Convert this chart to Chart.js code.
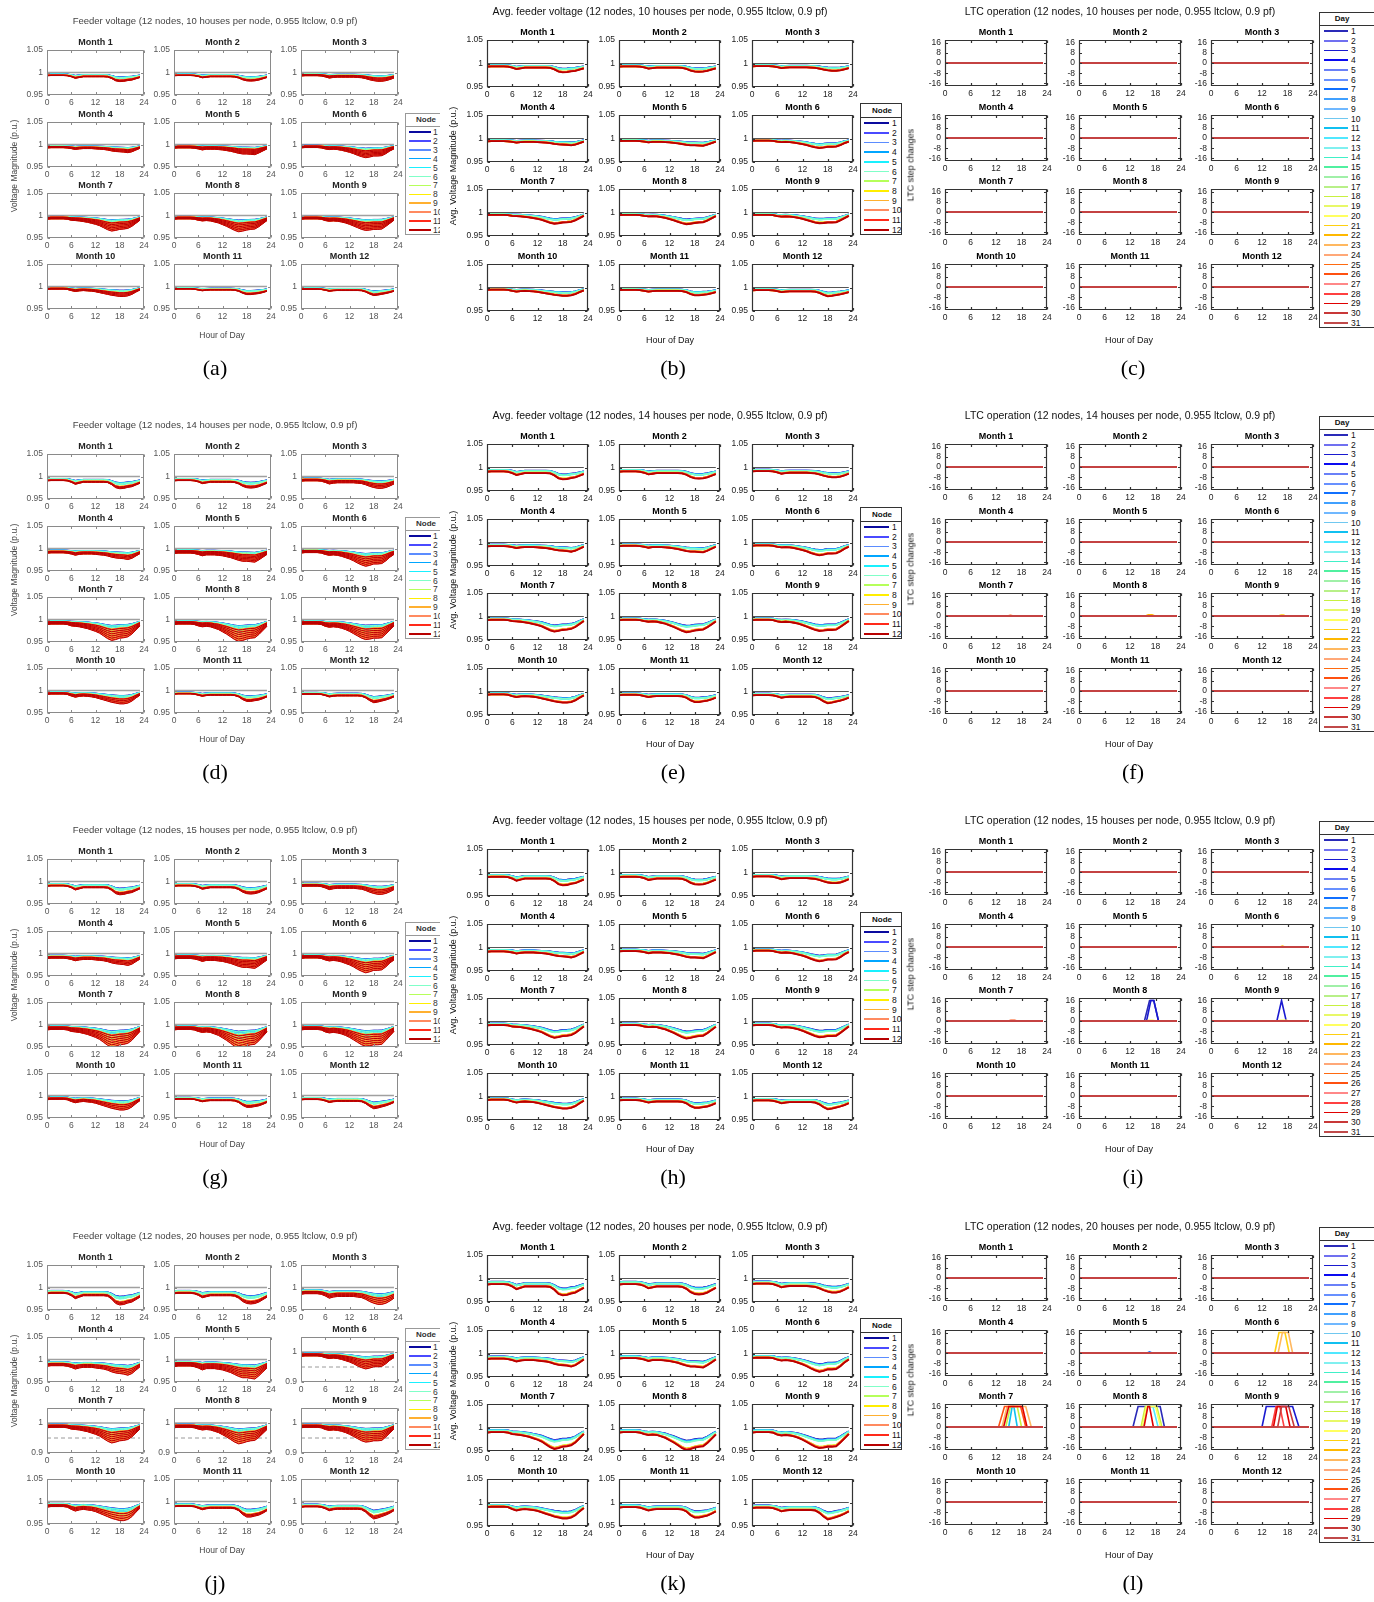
<!DOCTYPE html>
<html>
<head>
<meta charset="utf-8">
<title>Feeder voltage and LTC operation</title>
<script src="https://cdn.jsdelivr.net/npm/chart.js@4.4.1/dist/chart.umd.min.js"></script>
<style>
  body { margin: 0; background: #fff; }
  #page { position: relative; width: 1374px; height: 1602px; overflow: hidden; background: #fff;
          font-family: 'Liberation Sans', Arial, Helvetica, sans-serif; }
  .panel { position: absolute; height: 404px; overflow: hidden; }
  .panel.fan { filter: blur(0.45px); }
  .txt { position: absolute; white-space: nowrap; transform: translate(-50%, -50%); line-height: 1; }
  .legend { position: absolute; background: #fff; border: 1px solid #333; box-sizing: border-box; }
  canvas { position: absolute; }
</style>
</head>
<body>
<div id="page"></div>
<script>
// ---------- data ----------
const HOURS = [0, 1, 2, 3, 4, 5, 6, 7, 8, 9, 10, 11, 12, 13, 14, 15, 16, 17, 18, 19, 20, 21, 22, 23];
const HOUR_TICKS = [0, 6, 12, 18, 24];
const VOLT_TICKS = [0.95, 1, 1.05];
const VOLT_TICKS_WIDE = [0.9, 1];
const STEP_TICKS = [-16, -8, 0, 8, 16];
const NODES = [1, 2, 3, 4, 5, 6, 7, 8, 9, 10, 11, 12];
const DAYS = [1, 2, 3, 4, 5, 6, 7, 8, 9, 10, 11, 12, 13, 14, 15, 16, 17, 18, 19, 20, 21, 22, 23, 24, 25, 26, 27, 28, 29, 30, 31];
const HOUSES = [10, 14, 15, 20];

// voltage drop of the last node (milli p.u.) per hour, 20 houses per node
const DROP_M01 = [13, 12, 12, 12, 12, 13, 17, 23, 20, 17, 17, 17, 17, 17, 17, 18, 24, 33, 36, 35, 32, 30, 25, 20];
const DROP_M02 = [13, 12, 12, 12, 12, 13, 16, 21, 19, 17, 17, 17, 17, 17, 17, 18, 22, 29, 33, 34, 33, 30, 25, 20];
const DROP_M03 = [12, 11, 11, 11, 11, 12, 15, 19, 17, 16, 16, 16, 16, 16, 17, 18, 21, 25, 28, 30, 30, 28, 24, 19];
const DROP_M04 = [12, 11, 11, 11, 11, 12, 14, 17, 15, 14, 14, 14, 15, 16, 17, 19, 22, 24, 25, 26, 28, 25, 19, 13];
const DROP_M05 = [11, 10, 10, 10, 10, 11, 13, 16, 14, 14, 14, 15, 16, 18, 20, 23, 26, 28, 28, 29, 30, 25, 19, 13];
const DROP_M06 = [10, 9, 9, 9, 9, 10, 13, 15, 14, 15, 17, 20, 23, 27, 32, 36, 39, 37, 34, 34, 33, 27, 19, 13];
const DROP_M07 = [11, 10, 10, 10, 10, 11, 14, 15, 16, 18, 20, 23, 26, 30, 36, 42, 46, 44, 41, 40, 38, 32, 23, 14];
const DROP_M08 = [11, 10, 10, 10, 10, 11, 14, 16, 15, 16, 19, 22, 27, 32, 38, 44, 48, 46, 43, 41, 40, 33, 24, 15];
const DROP_M09 = [11, 10, 10, 10, 10, 11, 15, 17, 16, 17, 19, 22, 26, 31, 36, 41, 44, 43, 41, 41, 40, 32, 23, 14];
const DROP_M10 = [10, 9, 9, 9, 9, 10, 14, 17, 15, 14, 15, 16, 18, 21, 24, 27, 30, 32, 34, 34, 32, 27, 19, 12];
const DROP_M11 = [11, 10, 10, 10, 10, 11, 14, 17, 15, 14, 14, 14, 14, 14, 14, 15, 19, 27, 32, 32, 30, 28, 24, 19];
const DROP_M12 = [12, 11, 11, 11, 11, 12, 15, 19, 17, 16, 16, 16, 16, 16, 16, 17, 22, 30, 36, 34, 31, 28, 24, 19];
const MONTH_DROPS = [DROP_M01, DROP_M02, DROP_M03, DROP_M04, DROP_M05, DROP_M06,
                     DROP_M07, DROP_M08, DROP_M09, DROP_M10, DROP_M11, DROP_M12];

// drop relative to the 20-house case, and per node relative to node 12
const HOUSE_SCALE = [0.52, 0.7, 0.76, 1.0];
const NODE_FRAC = [0.58, 0.6, 0.62, 0.63, 0.64, 0.66, 0.93, 0.94, 0.95, 0.96, 0.98, 1.0];

// day-to-day spread of the drop in the per-day feeder plots
const FAN_DAYS_WINTER = [0.92, 1.0, 1.08];
const FAN_DAYS_SHOULDER = [0.8, 0.95, 1.1, 1.25];
const FAN_DAYS_SUMMER = [0.7, 0.85, 1.0, 1.15, 1.3, 1.45];
const FAN_DAY_SETS = [FAN_DAYS_WINTER, FAN_DAYS_SHOULDER, FAN_DAYS_SUMMER];
const FAN_SEASON = [0, 0, 1, 1, 2, 2, 2, 2, 2, 1, 0, 0];
const WIDE_MONTHS_20 = [6, 7, 8, 9];

const REF_V = 1;
const LIMIT_V = [0.95, 1.05];

const NODE_COLORS = ['#0a0a9e', '#4a4aff', '#5b8cff', '#00a6ff', '#19f0ff', '#80ffc8',
                     '#b6ff5a', '#ffee00', '#ffb030', '#ff8a60', '#ff2a1a', '#b80000'];
const DAY_COLORS = ['#2a2ab8', '#7070f0', '#1a1ad0', '#0a0af0', '#6a80f8', '#6890ff', '#1070ff', '#40a0ff',
                    '#70b8ff', '#70c8f0', '#10c0f0', '#50e8ff', '#80f0f0', '#40f0c8', '#50f0a0', '#a0f0a8',
                    '#b8f088', '#c8f040', '#e8f868', '#ffff60', '#ffd010', '#ffb800', '#ffb860', '#ffa878',
                    '#ff6a10', '#ff5010', '#ff8888', '#ff4040', '#e00000', '#c83838', '#c04a4a'];

// LTC tap movements (hour, steps) per month and day
const LTC_EVENTS_10 = [];
const LTC_EVENTS_14 = [
  { month: 7, day: 25, hours: [14.6, 15.4, 16.2], steps: [0, 0.6, 0] },
  { month: 8, day: 22, hours: [15.6, 16.3, 17.2, 17.9], steps: [0, 0.9, 0.9, 0] },
  { month: 9, day: 21, hours: [15.8, 16.5, 17.0, 17.6], steps: [0, 0.8, 0.8, 0] }
];
const LTC_EVENTS_15 = [
  { month: 6, day: 22, hours: [16.2, 16.8, 17.4], steps: [0, 0.7, 0] },
  { month: 7, day: 26, hours: [14.8, 15.5, 16.4, 17.0], steps: [0, 0.6, 0.6, 0] },
  { month: 8, day: 20, hours: [15.6, 16.4, 17.4, 18.0], steps: [0, 0.6, 0.6, 0] },
  { month: 8, day: 1, hours: [15.4, 16.6, 17.6, 18.7], steps: [0, 16, 16, 0] },
  { month: 8, day: 3, hours: [15.9, 16.9, 17.6, 18.7], steps: [0, 16, 16, 0] },
  { month: 9, day: 20, hours: [15.6, 16.4, 17.8, 18.3], steps: [0, 0.6, 0.6, 0] },
  { month: 9, day: 3, hours: [15.5, 16.6, 17.7], steps: [0, 16, 0] }
];
const LTC_EVENTS_20 = [
  { month: 5, day: 7, hours: [16.0, 16.6, 17.2], steps: [0, 0.8, 0] },
  { month: 6, day: 21, hours: [15.0, 16.0, 17.4, 18.4], steps: [0, 16, 16, 0] },
  { month: 6, day: 23, hours: [15.8, 16.8, 18.2, 19.2], steps: [0, 16, 16, 0] },
  { month: 7, day: 11, hours: [15.0, 15.8, 16.2, 17.0], steps: [0, 16, 16, 0] },
  { month: 7, day: 18, hours: [14.3, 15.4, 17.0, 18.0], steps: [0, 16, 16, 0] },
  { month: 7, day: 23, hours: [13.4, 14.6, 19.0, 20.3], steps: [0, 16, 16, 0] },
  { month: 7, day: 26, hours: [12.6, 14.0, 17.8, 19.0], steps: [0, 16, 16, 0] },
  { month: 7, day: 29, hours: [13.8, 15.0, 18.2, 19.3], steps: [0, 16, 16, 0] },
  { month: 8, day: 1, hours: [12.7, 13.9, 19.1, 20.1], steps: [0, 16, 16, 0] },
  { month: 8, day: 12, hours: [15.0, 16.0, 17.4, 18.6], steps: [0, 16, 16, 0] },
  { month: 8, day: 18, hours: [14.6, 15.6, 18.3, 19.5], steps: [0, 16, 16, 0] },
  { month: 8, day: 20, hours: [14.9, 15.9, 18.0, 19.2], steps: [0, 16, 16, 0] },
  { month: 8, day: 29, hours: [15.3, 16.2, 16.6, 17.5], steps: [0, 16, 16, 0] },
  { month: 9, day: 3, hours: [12.0, 13.0, 19.2, 20.7], steps: [0, 16, 16, 0] },
  { month: 9, day: 28, hours: [14.3, 15.3, 16.2, 17.2], steps: [0, 16, 16, 0] },
  { month: 9, day: 29, hours: [14.7, 15.6, 17.6, 18.6], steps: [0, 16, 16, 0] },
  { month: 9, day: 30, hours: [15.7, 16.6, 18.3, 19.6], steps: [0, 16, 16, 0] }
];

// ---------- layout ----------
const ROWS = [
  { y: 0,    house: 0, letters: ['(a)', '(b)', '(c)'], events: LTC_EVENTS_10, wide: [] },
  { y: 404,  house: 1, letters: ['(d)', '(e)', '(f)'], events: LTC_EVENTS_14, wide: [] },
  { y: 809,  house: 2, letters: ['(g)', '(h)', '(i)'], events: LTC_EVENTS_15, wide: [] },
  { y: 1215, house: 3, letters: ['(j)', '(k)', '(l)'], events: LTC_EVENTS_20, wide: WIDE_MONTHS_20 }
];
const FAN = { x0: 0, w: 440, lefts: [47, 174, 301], tops: [50, 122, 193, 264], pw: 97, ph: 45 };
const AVG = { x0: 440, w: 462, lefts: [487, 619, 752], tops: [40, 115, 189, 264], pw: 101, ph: 47 };
const LTC = { x0: 890, w: 484, lefts: [945, 1079, 1211], tops: [40, 115, 189, 264], pw: 102, ph: 46 };

const Y_W = 30, X_H = 16, T_H = 16, PR = 8;

Chart.defaults.font.family = "'Liberation Sans', Arial, Helvetica, sans-serif";

const page = document.getElementById('page');

// axes box with inward tick marks on all four sides
const boxPlugin = {
  id: 'box',
  afterDatasetsDraw(chart, args, opts) {
    const { ctx, chartArea: a, scales: { x, y } } = chart;
    const L = Math.round(a.left) + 0.5, R = Math.round(a.right) - 0.5;
    const T = Math.round(a.top) + 0.5, B = Math.round(a.bottom) - 0.5;
    ctx.save();
    ctx.strokeStyle = opts.color;
    ctx.lineWidth = opts.width;
    ctx.beginPath();
    ctx.rect(L, T, R - L, B - T);
    x.ticks.forEach(t => {
      const p = Math.round(x.getPixelForValue(t.value)) + 0.5;
      ctx.moveTo(p, B); ctx.lineTo(p, B - 2.5);
      ctx.moveTo(p, T); ctx.lineTo(p, T + 2.5);
    });
    y.ticks.forEach(t => {
      const p = Math.round(y.getPixelForValue(t.value)) + 0.5;
      ctx.moveTo(L, p); ctx.lineTo(L + 2.5, p);
      ctx.moveTo(R, p); ctx.lineTo(R - 2.5, p);
    });
    ctx.stroke();
    ctx.restore();
  }
};

function addText(parent, text, x, y, css, rotate) {
  const el = document.createElement('div');
  el.className = 'txt';
  el.textContent = text;
  el.style.left = x + 'px';
  el.style.top = y + 'px';
  Object.assign(el.style, css);
  if (rotate) el.style.transform = 'translate(-50%, -50%) rotate(-90deg)';
  parent.appendChild(el);
  return el;
}

function addLegend(parent, spec, header, labels, colors) {
  const box = document.createElement('div');
  box.className = 'legend';
  Object.assign(box.style, {
    left: spec.x + 'px', top: spec.y + 'px', width: spec.w + 'px', height: spec.h + 'px',
    borderColor: spec.border
  });
  parent.appendChild(box);
  addText(box, header, spec.headX - spec.x, spec.headY - spec.y,
    { fontSize: '8px', fontWeight: 'bold', color: spec.text });
  const sep = document.createElement('div');
  Object.assign(sep.style, { position: 'absolute', left: '0', right: '0', top: (spec.sepY - spec.y) + 'px',
    height: '1px', background: spec.border });
  box.appendChild(sep);
  labels.forEach((lab, i) => {
    const cy = spec.row0 + i * spec.step - spec.y;
    const sw = document.createElement('div');
    Object.assign(sw.style, { position: 'absolute', left: (spec.swX - spec.x) + 'px', width: spec.swW + 'px',
      top: (cy - spec.lw / 2) + 'px', height: spec.lw + 'px', background: colors[i] });
    box.appendChild(sw);
    const t = addText(box, String(lab), spec.labX - spec.x, cy, { fontSize: '8.5px', color: spec.text });
    t.style.transform = 'translate(0, -50%)';
  });
}

function subplot(parent, x0, left, top, w, h, title, style, yAxis, datasets) {
  const canvas = document.createElement('canvas');
  const cw = Y_W + w + PR, ch = T_H + h + X_H;
  canvas.width = cw;
  canvas.height = ch;
  Object.assign(canvas.style, { left: (left - Y_W - x0) + 'px', top: (top - T_H) + 'px',
    width: cw + 'px', height: ch + 'px' });
  parent.appendChild(canvas);
  datasets.forEach((d, i) => { d.order = -i; d.pointRadius = 0; d.fill = false; });
  return new Chart(canvas, {
    type: 'line',
    data: { datasets },
    options: {
      responsive: false, animation: false, events: [], devicePixelRatio: 1,
      layout: { autoPadding: false, padding: { left: 0, right: PR, top: 0, bottom: 0 } },
      elements: { point: { radius: 0 }, line: { tension: 0 } },
      plugins: {
        legend: { display: false },
        tooltip: { enabled: false },
        title: { display: true, fullSize: false, text: title, color: style.title,
                 font: { size: 9, weight: 'bold', lineHeight: 1.2 }, padding: { top: 3.2, bottom: 2 } },
        box: { color: style.box, width: style.boxW }
      },
      scales: {
        x: {
          type: 'linear', min: 0, max: 24,
          grid: { display: false, drawTicks: false }, border: { display: false },
          afterBuildTicks: s => { s.ticks = HOUR_TICKS.map(v => ({ value: v })); },
          afterFit: s => { s.height = X_H; },
          ticks: { color: style.tick, font: { size: 8.5 }, padding: 3, maxRotation: 0, autoSkip: false,
                   callback: v => String(v) }
        },
        y: {
          type: 'linear', min: yAxis.min, max: yAxis.max,
          grid: { display: false, drawTicks: false }, border: { display: false },
          afterBuildTicks: s => { s.ticks = yAxis.ticks.map(v => ({ value: v })); },
          afterFit: s => { s.width = Y_W; },
          ticks: { color: style.tick, font: { size: 8.5 }, padding: 4, autoSkip: false,
                   callback: v => String(v) }
        }
      }
    },
    plugins: [boxPlugin]
  });
}

const flatLine = (v, color, width, dash) => ({
  data: [{ x: HOURS[0], y: v }, { x: HOURS[HOURS.length - 1], y: v }],
  borderColor: color, borderWidth: width, borderDash: dash
});

const nodeVoltage = (house, n, factor, drop) =>
  HOURS.map((h, i) => ({ x: h, y: 1 - HOUSE_SCALE[house] * NODE_FRAC[n] * factor * drop[i] / 1000 }));

// ---------- panels ----------
const FAN_STYLE = { title: '#222', tick: '#555', box: '#8a8a8a', boxW: 1 };
const CRISP_STYLE = { title: '#000', tick: '#222', box: '#333', boxW: 1.2 };

ROWS.forEach(row => {
  const houses = HOUSES[row.house];
  const tail = `(12 nodes, ${houses} houses per node, 0.955 ltclow, 0.9 pf)`;

  // per-day node voltages
  const fan = document.createElement('div');
  fan.className = 'panel fan';
  Object.assign(fan.style, { left: FAN.x0 + 'px', top: row.y + 'px', width: FAN.w + 'px' });
  page.appendChild(fan);
  addText(fan, 'Feeder voltage ' + tail, 215, 21, { fontSize: '9.5px', color: '#444' });
  addText(fan, 'Hour of Day', 222, 335, { fontSize: '8.5px', color: '#444' });
  addText(fan, 'Voltage Magnitude (p.u.)', 14, 166, { fontSize: '8.5px', color: '#444' }, true);
  MONTH_DROPS.forEach((drop, m) => {
    const wide = row.wide.includes(m + 1);
    const sets = [
      flatLine(LIMIT_V[0], '#9a9a9a', 1, [4, 3]),
      flatLine(LIMIT_V[1], '#9a9a9a', 1, [4, 3]),
      flatLine(REF_V, '#a0a0a0', 1.5, [])
    ];
    NODES.forEach((node, n) => {
      FAN_DAY_SETS[FAN_SEASON[m]].forEach(f => {
        sets.push({ data: nodeVoltage(row.house, n, f, drop), borderColor: NODE_COLORS[n], borderWidth: 1 });
      });
    });
    const yAxis = wide ? { min: 0.9, max: 1.05, ticks: VOLT_TICKS_WIDE } : { min: 0.95, max: 1.05, ticks: VOLT_TICKS };
    subplot(fan, FAN.x0, FAN.lefts[m % 3], FAN.tops[Math.floor(m / 3)], FAN.pw, FAN.ph,
      'Month ' + (m + 1), FAN_STYLE, yAxis, sets);
  });
  addLegend(fan, { x: 405, y: 113, w: 48, h: 122, headX: 425, headY: 119, sepY: 125, row0: 131, step: 8.9,
    swX: 408, swW: 22, labX: 432, lw: 1.5, border: '#999', text: '#333' }, 'Node', NODES, NODE_COLORS);
  addText(page, row.letters[0], 215, row.y + 368,
    { fontSize: '22px', fontFamily: "'Liberation Serif', 'Times New Roman', serif", color: '#000' });

  // average node voltages
  const avg = document.createElement('div');
  avg.className = 'panel';
  Object.assign(avg.style, { left: AVG.x0 + 'px', top: row.y + 'px', width: AVG.w + 'px' });
  page.appendChild(avg);
  addText(avg, 'Avg. feeder voltage ' + tail, 660 - AVG.x0, 11, { fontSize: '10.5px', color: '#111' });
  addText(avg, 'Hour of Day', 670 - AVG.x0, 340, { fontSize: '9px', color: '#111' });
  addText(avg, 'Avg. Voltage Magnitude (p.u.)', 453 - AVG.x0, 166, { fontSize: '9px', color: '#111' }, true);
  MONTH_DROPS.forEach((drop, m) => {
    const sets = [flatLine(REF_V, '#555', 1, [])];
    NODES.forEach((node, n) => {
      sets.push({ data: nodeVoltage(row.house, n, 1, drop), borderColor: NODE_COLORS[n], borderWidth: 1.8 });
    });
    subplot(avg, AVG.x0, AVG.lefts[m % 3], AVG.tops[Math.floor(m / 3)], AVG.pw, AVG.ph,
      'Month ' + (m + 1), CRISP_STYLE, { min: 0.95, max: 1.05, ticks: VOLT_TICKS }, sets);
  });
  addLegend(avg, { x: 860 - AVG.x0, y: 103, w: 42, h: 132, headX: 881 - AVG.x0, headY: 110, sepY: 116,
    row0: 122, step: 9.7, swX: 863 - AVG.x0, swW: 25, labX: 891 - AVG.x0, lw: 1.8, border: '#333', text: '#111' },
    'Node', NODES, NODE_COLORS);
  addText(page, row.letters[1], 673, row.y + 368,
    { fontSize: '22px', fontFamily: "'Liberation Serif', 'Times New Roman', serif", color: '#000' });

  // LTC tap steps per day
  const ltc = document.createElement('div');
  ltc.className = 'panel';
  Object.assign(ltc.style, { left: LTC.x0 + 'px', top: row.y + 'px', width: LTC.w + 'px' });
  page.appendChild(ltc);
  addText(ltc, 'LTC operation ' + tail, 1120 - LTC.x0, 11, { fontSize: '10.5px', color: '#111' });
  addText(ltc, 'Hour of Day', 1129 - LTC.x0, 340, { fontSize: '9px', color: '#111' });
  addText(ltc, 'LTC step changes', 911 - LTC.x0, 165, { fontSize: '9px', color: '#111' }, true);
  for (let m = 0; m < 12; m++) {
    const sets = DAYS.map((day, d) => {
      const ev = row.events.find(e => e.month === m + 1 && e.day === day);
      const data = ev
        ? [{ x: HOURS[0], y: 0 }, ...ev.hours.map((h, i) => ({ x: h, y: ev.steps[i] })),
           { x: HOURS[HOURS.length - 1], y: 0 }]
        : HOURS.map(h => ({ x: h, y: 0 }));
      return { data, borderColor: DAY_COLORS[d], borderWidth: 1.6 };
    });
    subplot(ltc, LTC.x0, LTC.lefts[m % 3], LTC.tops[Math.floor(m / 3)], LTC.pw, LTC.ph,
      'Month ' + (m + 1), CRISP_STYLE, { min: -18, max: 18, ticks: STEP_TICKS }, sets);
  }
  addLegend(ltc, { x: 1319 - LTC.x0, y: 12, w: 70, h: 316, headX: 1341 - LTC.x0, headY: 18, sepY: 24,
    row0: 30, step: 9.73, swX: 1323 - LTC.x0, swW: 24, labX: 1350 - LTC.x0, lw: 1.8, border: '#333', text: '#111' },
    'Day', DAYS, DAY_COLORS);
  addText(page, row.letters[2], 1133, row.y + 368,
    { fontSize: '22px', fontFamily: "'Liberation Serif', 'Times New Roman', serif", color: '#000' });
});
</script>
</body>
</html>
